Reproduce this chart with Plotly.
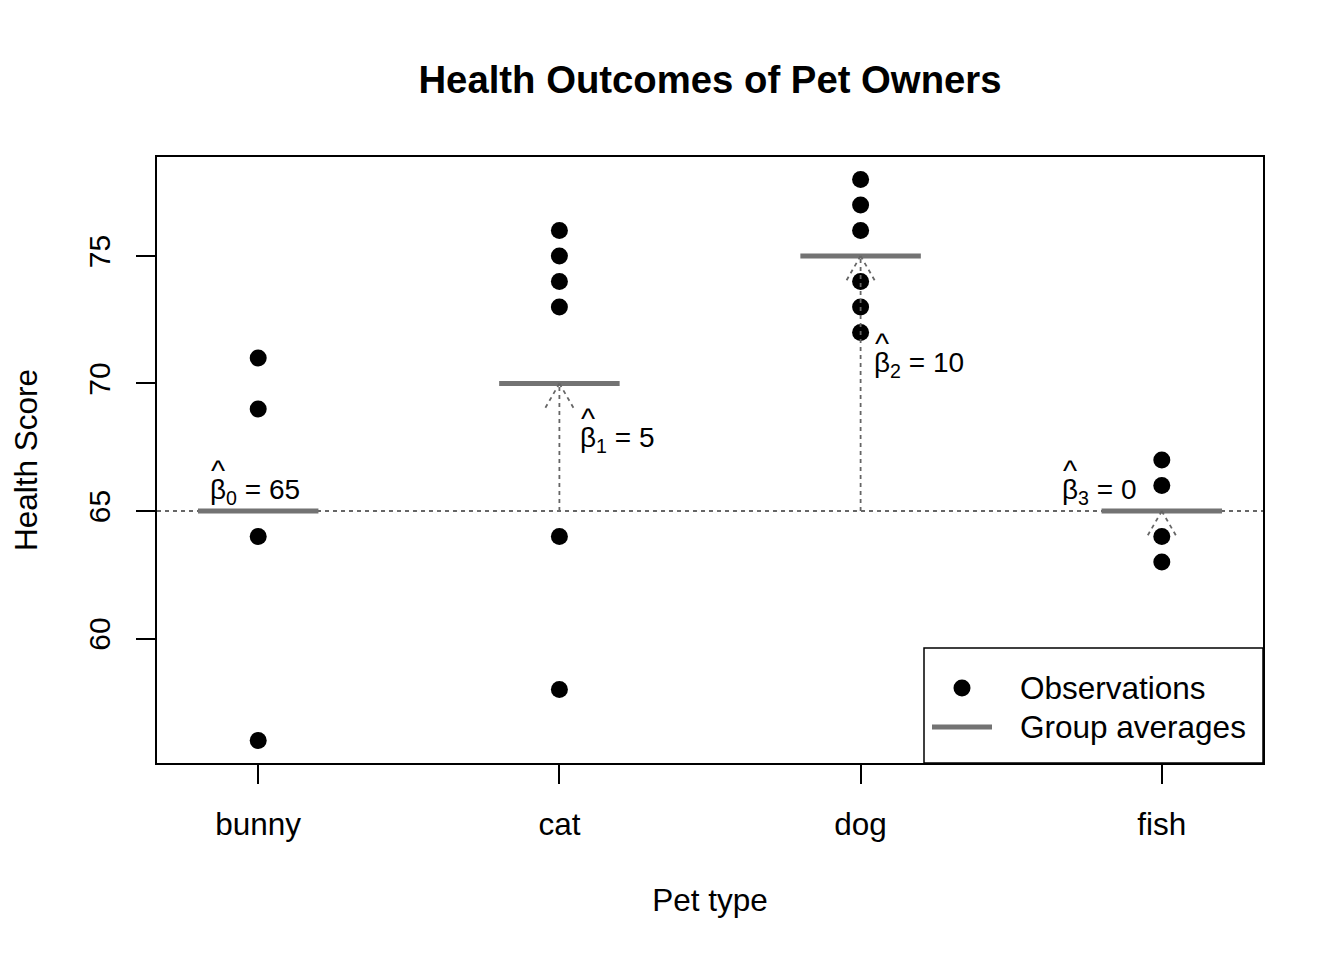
import plotly.graph_objects as go

categories = ["bunny", "cat", "dog", "fish"]
bunny = [71, 69, 64, 56]
cat = [76, 75, 74, 73, 64, 58]
dog = [78, 77, 76, 74, 73, 72]
fish = [67, 66, 64, 63]
groups = [bunny, cat, dog, fish]
baseline = 65
beta_texts = ["β<sub>0</sub> = 65", "β<sub>1</sub> = 5", "β<sub>2</sub> = 10", "β<sub>3</sub> = 0"]
draw_arrowhead = [False, True, True, True]
legend_names = ["Observations", "Group averages"]

means = [sum(g) / len(g) for g in groups]

# page geometry (the page body adds an 8px margin)
W, H = 1328, 944
ML, MR, MT, MB = 149, 73, 149, 189
XR = [0.664, 4.336]
YR = [55.12, 78.88]
PW, PH = W - ML - MR, H - MT - MB
pxx = PW / (XR[1] - XR[0])
pxy = PH / (YR[1] - YR[0])

FONT = "Liberation Sans, Arial, Helvetica, sans-serif"
GRAY = "#737373"
DOT = "#666666"
DASH = "4px,4px"

fig = go.Figure()

xs, ys = [], []
for i, g in enumerate(groups):
    xs += [i + 1] * len(g)
    ys += g
fig.add_trace(go.Scatter(x=xs, y=ys, mode="markers", name=legend_names[0],
                         marker=dict(color="black", size=17, line=dict(width=0)),
                         showlegend=False))

lx, ly = [], []
for i, m in enumerate(means):
    lx += [i + 1 - 0.2, i + 1 + 0.2, None]
    ly += [m, m, None]
fig.add_trace(go.Scatter(x=lx, y=ly, mode="lines", name=legend_names[1],
                         line=dict(color=GRAY, width=5), showlegend=False))

shapes = []
shapes.append(dict(type="line", xref="paper", yref="y", x0=0, x1=1, y0=baseline, y1=baseline,
                   line=dict(color=DOT, width=1.8, dash=DASH), layer="below"))
alen = 30
for i, m in enumerate(means):
    x = i + 1
    if m != baseline:
        shapes.append(dict(type="line", x0=x, x1=x, y0=baseline, y1=m,
                           line=dict(color=DOT, width=1.8, dash=DASH), layer="above"))
    if draw_arrowhead[i]:
        dx = alen * 0.5 / pxx
        dy = alen * 0.866 / pxy
        for s in (-1, 1):
            shapes.append(dict(type="line", x0=x, x1=x + s * dx, y0=m, y1=m - dy,
                               line=dict(color=DOT, width=1.8, dash=DASH), layer="above"))

# legend box drawn in plot-area (paper) fractions
def fx(px):
    return (px - 8 - ML) / PW

def fy(py):
    return (H + 8 - MB - py) / PH

shapes.append(dict(type="rect", xref="paper", yref="paper", x0=fx(924), x1=1, y0=0, y1=fy(648),
                   line=dict(color="black", width=1.5), fillcolor="white", layer="above"))
shapes.append(dict(type="circle", xref="paper", yref="paper", xsizemode="pixel", ysizemode="pixel",
                   xanchor=fx(962), yanchor=fy(688), x0=-8.5, x1=8.5, y0=-8.5, y1=8.5,
                   fillcolor="black", line=dict(width=0), layer="above"))
shapes.append(dict(type="line", xref="paper", yref="paper", x0=fx(932), x1=fx(992),
                   y0=fy(727), y1=fy(727), line=dict(color=GRAY, width=5), layer="above"))

annotations = []
lab_font = dict(family=FONT, size=28, color="black")
hat_font = dict(family=FONT, size=30, color="black")
# (anchor y, beta left offset px, digit-center px above anchor)
label_y = [means[0], (baseline + means[1]) / 2, (baseline + means[2]) / 2, means[3]]
label_dx = [-47, 22, 14, -99]
label_up = [22, 10, 21, 22]
for i in range(4):
    annotations.append(dict(x=i + 1, y=label_y[i], text=beta_texts[i], showarrow=False,
                            xanchor="left", yanchor="middle", xshift=label_dx[i] - 3,
                            yshift=label_up[i] - 2, font=lab_font))
    annotations.append(dict(x=i + 1, y=label_y[i], text="^", showarrow=False,
                            xanchor="center", yanchor="middle", xshift=label_dx[i] + 7,
                            yshift=label_up[i] + 19, font=hat_font))

leg_font = dict(family=FONT, size=31.5, color="black")
annotations.append(dict(xref="paper", yref="paper", x=fx(1018), y=fy(688), text=legend_names[0],
                        showarrow=False, xanchor="left", yanchor="middle", font=leg_font))
annotations.append(dict(xref="paper", yref="paper", x=fx(1018), y=fy(727), text=legend_names[1],
                        showarrow=False, xanchor="left", yanchor="middle", font=leg_font))

fig.update_layout(
    width=W, height=H,
    margin=dict(l=ML, r=MR, t=MT, b=MB, autoexpand=False),
    paper_bgcolor="white", plot_bgcolor="white",
    font=dict(family=FONT, size=31.5, color="black"),
    title=dict(text="<b>Health Outcomes of Pet Owners</b>", x=(ML + PW / 2) / W,
               xanchor="center", y=1 - 72 / H, yanchor="middle",
               font=dict(family=FONT, size=38.3, color="black")),
    shapes=shapes,
    annotations=annotations,
    showlegend=False,
)
fig.update_xaxes(range=XR, tickvals=[1, 2, 3, 4], ticktext=categories, automargin=False,
                 showgrid=False, zeroline=False, showline=True, mirror=True,
                 linecolor="black", linewidth=1.5, ticks="outside", ticklen=19,
                 tickwidth=1.5, tickcolor="black", ticklabelstandoff=13,
                 tickfont=dict(size=31.5),
                 title=dict(text="Pet type", standoff=48, font=dict(size=31.5)))
fig.update_yaxes(range=YR, tickvals=[60, 65, 70, 75], automargin=False,
                 showgrid=False, zeroline=False, showline=True, mirror=True,
                 linecolor="black", linewidth=1.5, ticks="outside", ticklen=19,
                 tickwidth=1.5, tickcolor="black", tickangle=-90, ticklabelstandoff=14,
                 tickfont=dict(size=30),
                 title=dict(text="Health Score", standoff=44, font=dict(size=31.5)))

fig.write_html("out.html")
